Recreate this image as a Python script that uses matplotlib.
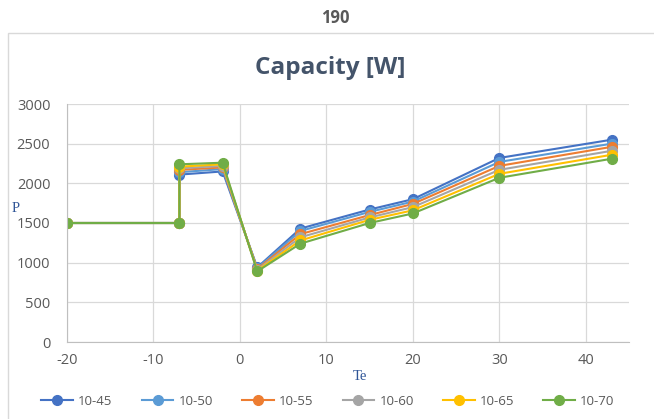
import matplotlib
matplotlib.use("Agg")
import matplotlib.pyplot as plt
from matplotlib.patches import Rectangle

te = [-20, -7, -7, -2, 2, 7, 15, 20, 30, 43]
series_names = ["10-45", "10-50", "10-55", "10-60", "10-65", "10-70"]
s_10_45 = [1500, 1500, 2110, 2150, 940, 1430, 1670, 1800, 2320, 2550]
s_10_50 = [1500, 1500, 2140, 2180, 930, 1400, 1640, 1770, 2270, 2500]
s_10_55 = [1500, 1500, 2170, 2200, 920, 1360, 1600, 1740, 2220, 2460]
s_10_60 = [1500, 1500, 2190, 2220, 910, 1320, 1570, 1700, 2170, 2410]
s_10_65 = [1500, 1500, 2210, 2240, 900, 1280, 1540, 1660, 2120, 2360]
s_10_70 = [1500, 1500, 2240, 2260, 890, 1240, 1500, 1620, 2070, 2310]
all_series = [s_10_45, s_10_50, s_10_55, s_10_60, s_10_65, s_10_70]
colors = ["#4472C4", "#5B9BD5", "#ED7D31", "#A5A5A5", "#FFC000", "#70AD47"]
x_ticks = [-20, -10, 0, 10, 20, 30, 40]
y_ticks = [0, 500, 1000, 1500, 2000, 2500, 3000]

plt.rcParams['font.family'] = ['Open Sans', 'DejaVu Sans']
plt.rcParams['axes.unicode_minus'] = False

fig = plt.figure(figsize=(6.54, 4.19), dpi=100)

# chart area border
fig.patches.append(Rectangle((8 / 654, -0.01), 1.0, 1 - 33 / 419 + 0.01, transform=fig.transFigure,
                             fill=False, edgecolor="#D9D9D9", linewidth=1.0))

fig.text(335 / 654, 1 - 18 / 419, "190", ha="center", va="center", fontsize=12,
         fontweight="bold", color="#595959")
fig.text(330 / 654, 1 - 68 / 419, "Capacity [W]", ha="center", va="center", fontsize=17.5,
         fontweight="bold", color="#44546A")

ax = fig.add_axes([67 / 654, 1 - 342 / 419, (629 - 67) / 654, (342 - 104) / 419])
for name, vals, c in zip(series_names, all_series, colors):
    ax.plot(te, vals, color=c, linewidth=1.5, marker="o", markersize=7, label=name)

ax.set_xlim(-20, 45)
ax.set_ylim(0, 3000)
ax.set_xticks(x_ticks)
ax.set_yticks(y_ticks)
ax.grid(True, color="#D9D9D9", linewidth=0.9)
ax.set_axisbelow(True)
for side in ["top", "right"]:
    ax.spines[side].set_visible(False)
for side in ["left", "bottom"]:
    ax.spines[side].set_color("#BFBFBF")
ax.tick_params(length=0, labelsize=10.5, colors="#595959")
ax.tick_params(axis="y", pad=12)
ax.tick_params(axis="x", pad=8)

fig.text(12 / 654, 1 - 208 / 419, "P", ha="left", va="center", fontsize=10.5,
         color="#2F5597", family=["Liberation Serif"])
fig.text(360 / 654, 1 - 376 / 419, "Te", ha="center", va="center", fontsize=10.5,
         color="#2F5597", family=["Liberation Serif"])

handles, labels = ax.get_legend_handles_labels()
fig.legend(handles, labels, loc="center", bbox_to_anchor=(328 / 654, 1 - 401 / 419), ncol=6,
           frameon=False, fontsize=9.5, handlelength=2.4, columnspacing=2.2,
           handletextpad=0.4, labelcolor="#595959")

fig.savefig("out.png", dpi=100)
